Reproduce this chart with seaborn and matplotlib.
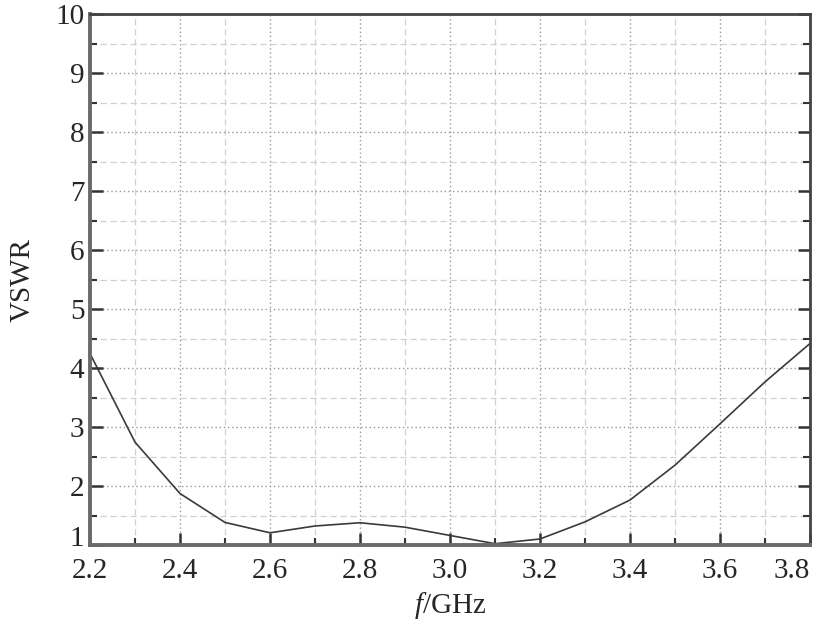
import matplotlib
matplotlib.use("Agg")
import matplotlib.pyplot as plt
import matplotlib.transforms as mtransforms
import seaborn as sns
import pandas as pd
from matplotlib.ticker import MultipleLocator

freq = [2.2, 2.3, 2.4, 2.5, 2.6, 2.7, 2.8, 2.9, 3.0, 3.1, 3.2, 3.3, 3.4, 3.5, 3.6, 3.7, 3.8]
vswr = [4.25, 2.75, 1.88, 1.39, 1.215, 1.33, 1.385, 1.31, 1.17, 1.03, 1.11, 1.40, 1.77, 2.36, 3.06, 3.77, 4.42]
xticks = [2.2, 2.4, 2.6, 2.8, 3.0, 3.2, 3.4, 3.6, 3.8]
xticklabels = ["2.2", "2.4", "2.6", "2.8", "3.0", "3.2", "3.4", "3.6", "3.8"]
yticks = [1, 2, 3, 4, 5, 6, 7, 8, 9, 10]

sns.set_theme(style="white")
plt.rcParams['font.family'] = ['Liberation Serif', 'DejaVu Serif']
plt.rcParams['mathtext.fontset'] = 'custom'
plt.rcParams['mathtext.it'] = 'Liberation Serif:italic'
plt.rcParams['mathtext.rm'] = 'Liberation Serif'

df = pd.DataFrame({"f": freq, "VSWR": vswr})

fig = plt.figure(figsize=(8.19, 6.21), dpi=100)
ax = fig.add_axes([0.1099, 0.1216, 0.989 - 0.1099, 0.9775 - 0.1216])

ax.set_xlim(2.2, 3.8)
ax.set_ylim(1, 10)
ax.xaxis.set_minor_locator(MultipleLocator(0.1))
ax.yaxis.set_minor_locator(MultipleLocator(0.5))
ax.set_xticks(xticks)
ax.set_xticklabels(xticklabels)
ax.set_yticks(yticks)
ax.set_yticklabels([str(v) for v in yticks])

ax.grid(which='major', color='#9a9a9a', linestyle=(0, (1, 2)), linewidth=1.0)
ax.grid(which='minor', color='#d0d0d0', linestyle=(0, (5, 3)), linewidth=0.9)
ax.set_axisbelow(True)

sns.lineplot(data=df, x="f", y="VSWR", ax=ax, color='#3a3a3a', linewidth=1.2)

for s in ['left', 'bottom']:
    ax.spines[s].set_color('#6a6a6a')
    ax.spines[s].set_linewidth(2.8)
for s in ['top', 'right']:
    ax.spines[s].set_color('#444444')
    ax.spines[s].set_linewidth(2.0)

ax.tick_params(which='major', direction='in', length=9, width=1.8, color='#333333',
               labelsize=21, bottom=True, left=True, right=True)
ax.tick_params(which='minor', direction='in', length=5, width=1.5, color='#333333',
               bottom=True, left=True, right=True)
ax.tick_params(axis='x', which='major', pad=9)
ax.tick_params(axis='y', which='major', pad=4)

xl = ax.get_xticklabels()
xl[-1].set_horizontalalignment('right')
yl = ax.get_yticklabels()
yl[0].set_transform(yl[0].get_transform() + mtransforms.ScaledTranslation(0, 7 / 72, fig.dpi_scale_trans))

ax.set_xlabel(r"$\mathit{f}$/GHz", fontsize=21, labelpad=4)
ax.set_ylabel("VSWR", fontsize=21, labelpad=14)

fig.savefig("out.png", dpi=100)
